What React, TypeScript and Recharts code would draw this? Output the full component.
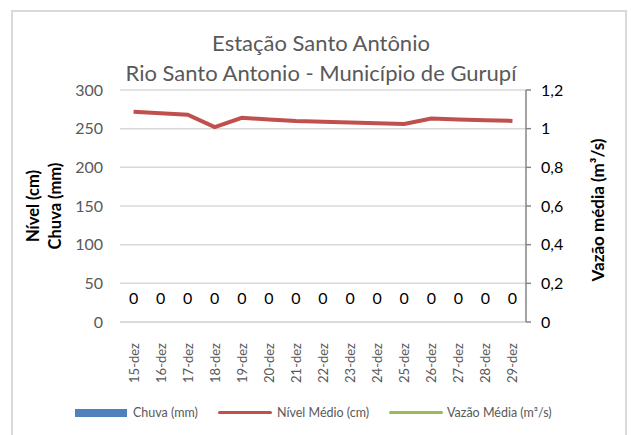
import { ComposedChart, Bar, Line, XAxis, YAxis, CartesianGrid, LabelList } from "recharts"

const dias = [
  "15-dez", "16-dez", "17-dez", "18-dez", "19-dez", "20-dez", "21-dez", "22-dez",
  "23-dez", "24-dez", "25-dez", "26-dez", "27-dez", "28-dez", "29-dez",
]
const chuva = [0, 0, 0, 0, 0, 0, 0, 0, 0, 0, 0, 0, 0, 0, 0]
const nivel = [272, 270, 268, 252, 264, 262, 260, 259, 258, 257, 256, 263, 262, 261, 260]
const vazao: (number | null)[] = [null, null, null, null, null, null, null, null, null, null, null, null, null, null, null]
const ticksEsq = [0, 50, 100, 150, 200, 250, 300]
const ticksDir = [0, 0.2, 0.4, 0.6, 0.8, 1, 1.2]

const data = dias.map((dia, i) => ({ dia, chuva: chuva[i], nivel: nivel[i], vazao: vazao[i] }))

const FONT = "Lato, 'Open Sans', sans-serif"
const CINZA = "#595959"

function DiaTick(props: any) {
  const { x, y, payload } = props
  return (
    <text
      transform={`translate(${x + 5},${y + 13}) rotate(-90)`}
      textAnchor="end"
      fill={CINZA}
      fontSize={13}
      fontFamily={FONT}
    >
      {payload.value}
    </text>
  )
}

function EixoEsqLabel(props: any) {
  const { viewBox } = props
  const cy = viewBox.y + viewBox.height / 2
  return (
    <g fontFamily={FONT} fontWeight="bold" fontSize={16.5} fill="#000">
      <text transform={`translate(39,${cy}) rotate(-90)`} textAnchor="middle">Nível (cm)</text>
      <text transform={`translate(61,${cy}) rotate(-90)`} textAnchor="middle">Chuva (mm)</text>
    </g>
  )
}

function EixoDirLabel(props: any) {
  const { viewBox } = props
  const cy = viewBox.y + viewBox.height / 2
  return (
    <text
      transform={`translate(604,${cy + 4}) rotate(-90)`}
      textAnchor="middle"
      fontFamily={FONT}
      fontWeight="bold"
      fontSize={17}
      fill="#000"
    >
      Vazão média (m³/s)
    </text>
  )
}

function ZeroLabel(props: any) {
  const { x, y, value } = props
  return (
    <text x={x} y={y - 18} textAnchor="middle" fill="#000" fontSize={16} fontFamily={FONT}>
      {value}
    </text>
  )
}

export default function App() {
  return (
    <div style={{ position: "absolute", top: 0, left: 0, width: 631, height: 435, background: "#fff", fontFamily: FONT }}>
      <div
        style={{
          position: "absolute",
          left: 11,
          top: 10,
          width: 616,
          height: 430,
          border: "2px solid #d9d9d9",
          boxSizing: "border-box",
        }}
      />
      <div style={{ position: "absolute", top: 28, left: 0, width: 642, textAlign: "center", color: CINZA, fontSize: 22, lineHeight: "30px" }}>
        Estação Santo Antônio
        <br />
        Rio Santo Antonio - Município de Gurupí
      </div>
      <div style={{ position: "absolute", top: 0, left: 0 }}>
        <ComposedChart
          width={631}
          height={435}
          data={data}
          margin={{ top: 90, right: 55, left: 60, bottom: 53 }}
        >
          <CartesianGrid yAxisId="esq" vertical={false} stroke="#d9d9d9" strokeWidth={1.5} />
          <XAxis
            dataKey="dia"
            height={60}
            interval={0}
            axisLine={{ stroke: "#d9d9d9", strokeWidth: 1.5 }}
            tickLine={false}
            tick={<DiaTick />}
          />
          <YAxis
            yAxisId="esq"
            width={60}
            domain={[0, 300]}
            ticks={ticksEsq}
            axisLine={false}
            tickLine={false}
            tickSize={6}
            tickMargin={11}
            tick={{ fill: CINZA, fontSize: 16, fontFamily: FONT }}
            label={<EixoEsqLabel />}
          />
          <YAxis
            yAxisId="dir"
            orientation="right"
            width={50}
            type="number"
            domain={[0, 1.2]}
            allowDataOverflow
            ticks={ticksDir}
            axisLine={{ stroke: "#868686", strokeWidth: 1.5 }}
            tickLine={{ stroke: "#868686", strokeWidth: 1.5 }}
            tickSize={5}
            tickMargin={10}
            tickFormatter={(v: number) => String(v).replace(".", ",")}
            tick={{ fill: "#000", fontSize: 16, fontFamily: FONT }}
            label={<EixoDirLabel />}
          />
          <Bar yAxisId="esq" dataKey="chuva" fill="#4f81bd" isAnimationActive={false} />
          {/* rótulos de dados da chuva (valores zero) */}
          <Line
            yAxisId="esq"
            dataKey="chuva"
            stroke="transparent"
            dot={false}
            activeDot={false}
            legendType="none"
            isAnimationActive={false}
          >
            <LabelList dataKey="chuva" content={<ZeroLabel />} />
          </Line>
          <Line
            yAxisId="esq"
            dataKey="nivel"
            stroke="#c0504d"
            strokeWidth={4}
            dot={false}
            isAnimationActive={false}
          />
          <Line
            yAxisId="dir"
            dataKey="vazao"
            stroke="#9bbb59"
            strokeWidth={4}
            dot={false}
            isAnimationActive={false}
          />
        </ComposedChart>
      </div>
      <div style={{ position: "absolute", top: 405, left: 0, width: 631, height: 16, fontSize: 12.5, color: CINZA }}>
        <div style={{ position: "absolute", left: 75, top: 4, width: 52, height: 8, background: "#4f81bd" }} />
        <div style={{ position: "absolute", left: 133, top: 0, lineHeight: "16px" }}>Chuva (mm)</div>
        <div style={{ position: "absolute", left: 218, top: 6, width: 54, height: 3, borderRadius: 2, background: "#c0504d" }} />
        <div style={{ position: "absolute", left: 277, top: 0, lineHeight: "16px" }}>Nível Médio (cm)</div>
        <div style={{ position: "absolute", left: 389, top: 6, width: 54, height: 3, borderRadius: 2, background: "#9bbb59" }} />
        <div style={{ position: "absolute", left: 447, top: 0, lineHeight: "16px" }}>Vazão Média (m³/s)</div>
      </div>
    </div>
  )
}
